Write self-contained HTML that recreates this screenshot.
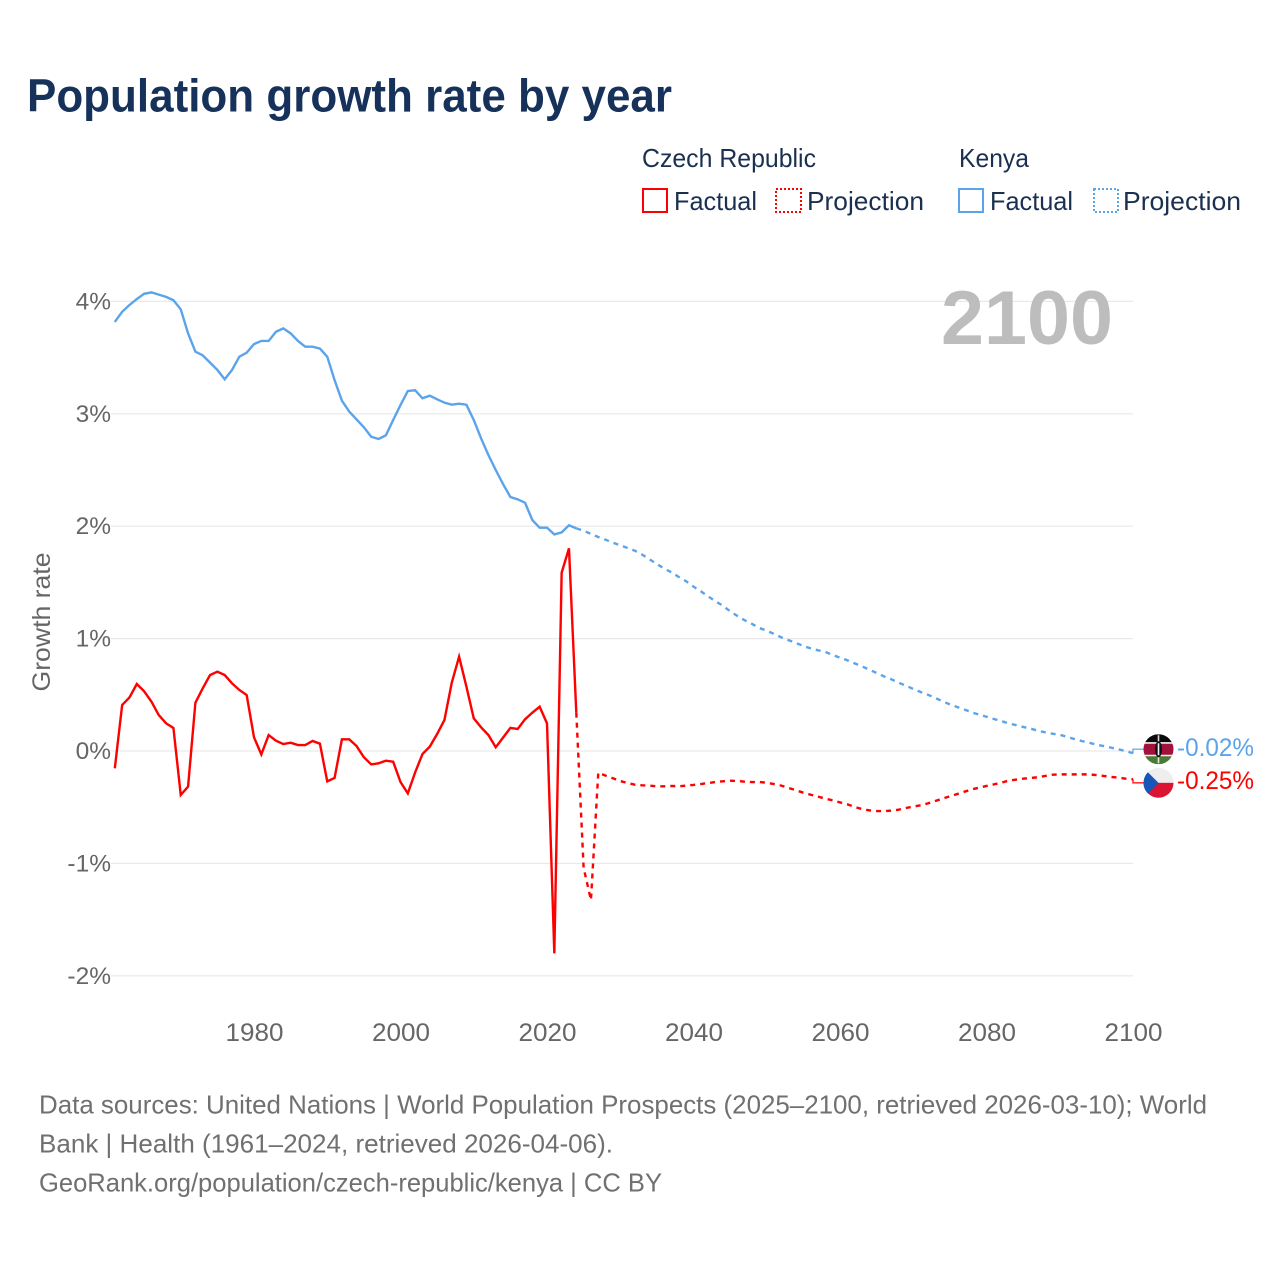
<!DOCTYPE html>
<html lang="en">
<head>
<meta charset="utf-8">
<title>Population growth rate by year</title>
<style>
  html, body { margin: 0; padding: 0; background: #fff; }
  svg { display: block; font-family: "Liberation Sans", sans-serif; }
</style>
</head>
<body>
<svg id="chart" xmlns="http://www.w3.org/2000/svg" width="1280" height="1280" viewBox="0 0 1280 1280">
  <rect x="0" y="0" width="1280" height="1280" fill="#ffffff"/>
  <text x="27" y="111.5" font-size="46" font-weight="700" fill="#17325a" textLength="645" lengthAdjust="spacingAndGlyphs">Population growth rate by year</text>

  <g font-size="26" fill="#1b3050">
    <text x="642" y="167" textLength="174" lengthAdjust="spacingAndGlyphs">Czech Republic</text>
    <text x="959" y="167" textLength="70" lengthAdjust="spacingAndGlyphs">Kenya</text>
    <rect x="643" y="189" width="24" height="23" fill="none" stroke="#ff0000" stroke-width="2"/>
    <text x="674" y="210" textLength="83" lengthAdjust="spacingAndGlyphs">Factual</text>
    <rect x="776" y="189" width="25" height="23" fill="none" stroke="#ff0000" stroke-width="2" stroke-dasharray="2 2"/>
    <text x="807" y="210" textLength="117" lengthAdjust="spacingAndGlyphs">Projection</text>
    <rect x="959" y="189" width="24" height="23" fill="none" stroke="#5ba4ea" stroke-width="2"/>
    <text x="990" y="210" textLength="83" lengthAdjust="spacingAndGlyphs">Factual</text>
    <rect x="1094" y="189" width="24" height="23" fill="none" stroke="#5ba4ea" stroke-width="2" stroke-dasharray="2 2"/>
    <text x="1123" y="210" textLength="118" lengthAdjust="spacingAndGlyphs">Projection</text>
  </g>

  <g id="grid"></g>
  <g id="y-labels"></g>
  <g id="x-labels"></g>
  <text transform="translate(50,622) rotate(-90)" text-anchor="middle" font-size="25" fill="#666666" textLength="139" lengthAdjust="spacingAndGlyphs">Growth rate</text>
  <text x="941" y="344" font-size="76" font-weight="700" fill="#bdbdbd" textLength="172" lengthAdjust="spacingAndGlyphs">2100</text>

  <g id="series"></g>
  <g id="end-markers"></g>

  <g font-size="26" fill="#707070">
    <text x="39" y="1113.5" textLength="1168" lengthAdjust="spacingAndGlyphs">Data sources: United Nations | World Population Prospects (2025–2100, retrieved 2026-03-10); World</text>
    <text x="39" y="1152.5" textLength="574" lengthAdjust="spacingAndGlyphs">Bank | Health (1961–2024, retrieved 2026-04-06).</text>
    <text x="39" y="1191.5" textLength="623" lengthAdjust="spacingAndGlyphs">GeoRank.org/population/czech-republic/kenya | CC BY</text>
  </g>
</svg>

<script>
// Values in percent per year. Factual series start in 1961, projections in 2024.
const factualStartYear = 1961;
const projectionStartYear = 2024;
const yTickValues = [4, 3, 2, 1, 0, -1, -2];
const yTickLabels = ['4%', '3%', '2%', '1%', '0%', '-1%', '-2%'];
const xTickYears = [1980, 2000, 2020, 2040, 2060, 2080, 2100];
const xTickLabels = ['1980', '2000', '2020', '2040', '2060', '2080', '2100'];

const kenyaFactual = [
  3.817, 3.908, 3.968, 4.021, 4.068, 4.08, 4.06, 4.04, 4.01, 3.93,
  3.716, 3.553, 3.52, 3.455, 3.39, 3.307, 3.39, 3.508, 3.544, 3.62,
  3.648, 3.648, 3.73, 3.76, 3.716, 3.648, 3.597, 3.597, 3.58, 3.508,
  3.30, 3.117, 3.02, 2.95, 2.88, 2.796, 2.776, 2.808, 2.945, 3.078,
  3.203, 3.209, 3.138, 3.161, 3.129, 3.099, 3.081, 3.09, 3.081, 2.945,
  2.782, 2.633, 2.5, 2.375, 2.26, 2.239, 2.209, 2.055, 1.987, 1.987,
  1.927, 1.945, 2.008, 1.981
];
const kenyaProjection = [
  1.981, 1.960, 1.931, 1.904, 1.880, 1.853, 1.830, 1.806, 1.782, 1.747,
  1.705, 1.664, 1.622, 1.590, 1.548, 1.510, 1.462, 1.421, 1.376, 1.332,
  1.293, 1.243, 1.201, 1.163, 1.130, 1.094, 1.071, 1.041, 1.011, 0.985,
  0.961, 0.934, 0.913, 0.896, 0.881, 0.854, 0.830, 0.807, 0.780, 0.753,
  0.724, 0.694, 0.664, 0.638, 0.608, 0.581, 0.552, 0.525, 0.501, 0.472,
  0.442, 0.415, 0.391, 0.368, 0.344, 0.323, 0.305, 0.285, 0.267, 0.246,
  0.231, 0.214, 0.199, 0.181, 0.166, 0.154, 0.145, 0.125, 0.107, 0.089,
  0.074, 0.056, 0.044, 0.030, 0.015, 0.000, -0.02
];
const czechFactual = [
  -0.154, 0.409, 0.477, 0.596, 0.531, 0.439, 0.320, 0.246, 0.205, -0.391,
  -0.317, 0.430, 0.558, 0.676, 0.706, 0.676, 0.602, 0.543, 0.498, 0.122,
  -0.030, 0.142, 0.092, 0.062, 0.074, 0.053, 0.053, 0.089, 0.065, -0.270,
  -0.240, 0.104, 0.104, 0.044, -0.056, -0.119, -0.110, -0.086, -0.095, -0.276,
  -0.377, -0.190, -0.027, 0.039, 0.151, 0.276, 0.608, 0.839, 0.572, 0.291,
  0.211, 0.142, 0.033, 0.119, 0.205, 0.196, 0.282, 0.341, 0.394, 0.246,
  -1.800, 1.586, 1.803, 0.341
];
const czechProjection = [
  0.341, -1.04, -1.326, -0.193, -0.219, -0.243, -0.267, -0.285, -0.300, -0.305,
  -0.308, -0.314, -0.314, -0.311, -0.314, -0.308, -0.302, -0.294, -0.285, -0.276,
  -0.270, -0.264, -0.267, -0.273, -0.276, -0.276, -0.282, -0.294, -0.308, -0.329,
  -0.350, -0.371, -0.389, -0.406, -0.424, -0.439, -0.457, -0.474, -0.498, -0.516,
  -0.528, -0.534, -0.534, -0.531, -0.522, -0.507, -0.495, -0.483, -0.466, -0.445,
  -0.424, -0.403, -0.383, -0.362, -0.341, -0.326, -0.311, -0.297, -0.282, -0.264,
  -0.255, -0.246, -0.240, -0.234, -0.222, -0.211, -0.208, -0.208, -0.208, -0.208,
  -0.208, -0.214, -0.222, -0.231, -0.237, -0.246, -0.252
];

const NS = 'http://www.w3.org/2000/svg';
const RED = '#ff0000';
const BLUE = '#5ba4ea';

function xScale(year) { return 1133 - (2100 - year) * 7.325; }
function yScale(value) { return 751 - value * 112.4; }

function make(tag, parent) {
  const el = document.createElementNS(NS, tag);
  parent.appendChild(el);
  return el;
}

function pathFrom(values, startYear) {
  return values.map(function (v, i) {
    return (i === 0 ? 'M' : 'L') + xScale(startYear + i).toFixed(2) + ' ' + yScale(v).toFixed(2);
  }).join(' ');
}

const gridLayer = document.getElementById('grid');
const yLabelLayer = document.getElementById('y-labels');
const xLabelLayer = document.getElementById('x-labels');
const seriesLayer = document.getElementById('series');
const markerLayer = document.getElementById('end-markers');

yTickValues.forEach(function (value, i) {
  const line = make('line', gridLayer);
  
  
  line.setAttribute('x1', 111);
  line.setAttribute('x2', 1133);
  line.setAttribute('y1', yScale(value));
  line.setAttribute('y2', yScale(value));
  line.setAttribute('stroke', '#e9e9e9');
  line.setAttribute('stroke-width', 1.2);

  const label = make('text', yLabelLayer);
  
  
  label.setAttribute('x', 111);
  label.setAttribute('y', yScale(value) + 8);
  label.setAttribute('text-anchor', 'end');
  label.setAttribute('font-size', 24.5);
  label.setAttribute('fill', '#666666');
  label.textContent = yTickLabels[i];
});

xTickYears.forEach(function (year, i) {
  const label = make('text', xLabelLayer);
  
  
  label.setAttribute('x', xScale(year) + 0.5);
  label.setAttribute('y', 1041);
  label.setAttribute('text-anchor', 'middle');
  label.setAttribute('font-size', 25);
  label.setAttribute('fill', '#666666');
  label.setAttribute('textLength', 58);
  label.setAttribute('lengthAdjust', 'spacingAndGlyphs');
  label.textContent = xTickLabels[i];
});

function styleLine(el, color, dashed) {
  el.setAttribute('fill', 'none');
  el.setAttribute('stroke', color);
  el.setAttribute('stroke-width', 2.4);
  el.setAttribute('stroke-linejoin', 'miter');
  if (dashed) { el.setAttribute('stroke-dasharray', '5 5'); }
}

const kenyaFactualLine = make('path', seriesLayer);


kenyaFactualLine.setAttribute('d', pathFrom(kenyaFactual, factualStartYear));
styleLine(kenyaFactualLine, BLUE, false);

const kenyaProjectionLine = make('path', seriesLayer);


kenyaProjectionLine.setAttribute('d', pathFrom(kenyaProjection, projectionStartYear));
styleLine(kenyaProjectionLine, BLUE, true);

const czechFactualLine = make('path', seriesLayer);


czechFactualLine.setAttribute('d', pathFrom(czechFactual, factualStartYear));
styleLine(czechFactualLine, RED, false);

const czechProjectionLine = make('path', seriesLayer);


czechProjectionLine.setAttribute('d', pathFrom(czechProjection, projectionStartYear));
styleLine(czechProjectionLine, RED, true);

// End-of-line flags and values
const kenyaLast = kenyaProjection[kenyaProjection.length - 1];
const czechLast = czechProjection[czechProjection.length - 1];
const kenyaEndY = yScale(kenyaLast) - 4;
const czechEndY = yScale(czechLast) + 3.5;
const endX = xScale(2100);

const kenyaConnector = make('path', markerLayer);


kenyaConnector.setAttribute('d', 'M' + endX + ' ' + yScale(kenyaLast) + ' L' + endX + ' ' + kenyaEndY + ' L1144 ' + kenyaEndY);
kenyaConnector.setAttribute('fill', 'none');
kenyaConnector.setAttribute('stroke', BLUE);
kenyaConnector.setAttribute('stroke-width', 1.6);
kenyaConnector.setAttribute('opacity', 0.8);

const czechConnector = make('path', markerLayer);


czechConnector.setAttribute('d', 'M' + endX + ' ' + yScale(czechLast) + ' L' + endX + ' ' + czechEndY + ' L1144 ' + czechEndY);
czechConnector.setAttribute('fill', 'none');
czechConnector.setAttribute('stroke', RED);
czechConnector.setAttribute('stroke-width', 1.6);
czechConnector.setAttribute('opacity', 0.8);

const defs = make('defs', markerLayer);
const clip = make('clipPath', defs);
clip.setAttribute('id', 'flag-clip');
const clipCircle = make('circle', clip);
clipCircle.setAttribute('r', 15);

function bar(parent, x, y, w, h, fill) {
  const r = make('rect', parent);
  r.setAttribute('x', x);
  r.setAttribute('y', y);
  r.setAttribute('width', w);
  r.setAttribute('height', h);
  r.setAttribute('fill', fill);
  return r;
}

const kenyaFlag = make('g', markerLayer);


kenyaFlag.setAttribute('transform', 'translate(1158.5,' + kenyaEndY + ')');
kenyaFlag.setAttribute('clip-path', 'url(#flag-clip)');
bar(kenyaFlag, -15, -15, 30, 8, '#0a0a0a');
bar(kenyaFlag, -15, -7, 30, 14, '#f2f2f2');
bar(kenyaFlag, -15, -5.5, 30, 11, '#a3123a');
bar(kenyaFlag, -15, 7, 30, 8, '#4a7a35');
const kenyaSpear = bar(kenyaFlag, -0.8, -14, 1.6, 28, '#f2f2f2');
kenyaSpear.setAttribute('opacity', 0.9);
const kenyaShield = make('ellipse', kenyaFlag);
kenyaShield.setAttribute('rx', 3.6);
kenyaShield.setAttribute('ry', 8);
kenyaShield.setAttribute('fill', '#141414');
bar(kenyaFlag, -0.8, -6, 1.6, 12, '#f2f2f2');

const czechFlag = make('g', markerLayer);


czechFlag.setAttribute('transform', 'translate(1158.5,' + czechEndY + ')');
czechFlag.setAttribute('clip-path', 'url(#flag-clip)');
bar(czechFlag, -15, -15, 30, 15, '#eeeeee');
bar(czechFlag, -15, 0, 30, 15, '#db1433');
const czechTriangle = make('path', czechFlag);
czechTriangle.setAttribute('d', 'M-15 -15 L0 0 L-15 15 Z');
czechTriangle.setAttribute('fill', '#1657b8');

const kenyaValue = make('text', markerLayer);


kenyaValue.setAttribute('x', 1177);
kenyaValue.setAttribute('y', kenyaEndY + 7);
kenyaValue.setAttribute('font-size', 25);
kenyaValue.setAttribute('fill', BLUE);
kenyaValue.setAttribute('textLength', 77);
kenyaValue.setAttribute('lengthAdjust', 'spacingAndGlyphs');
kenyaValue.textContent = kenyaLast.toFixed(2) + '%';

const czechValue = make('text', markerLayer);


czechValue.setAttribute('x', 1177);
czechValue.setAttribute('y', czechEndY + 6);
czechValue.setAttribute('font-size', 25);
czechValue.setAttribute('fill', RED);
czechValue.setAttribute('textLength', 77);
czechValue.setAttribute('lengthAdjust', 'spacingAndGlyphs');
czechValue.textContent = czechLast.toFixed(2) + '%';
</script>
</body>
</html>
